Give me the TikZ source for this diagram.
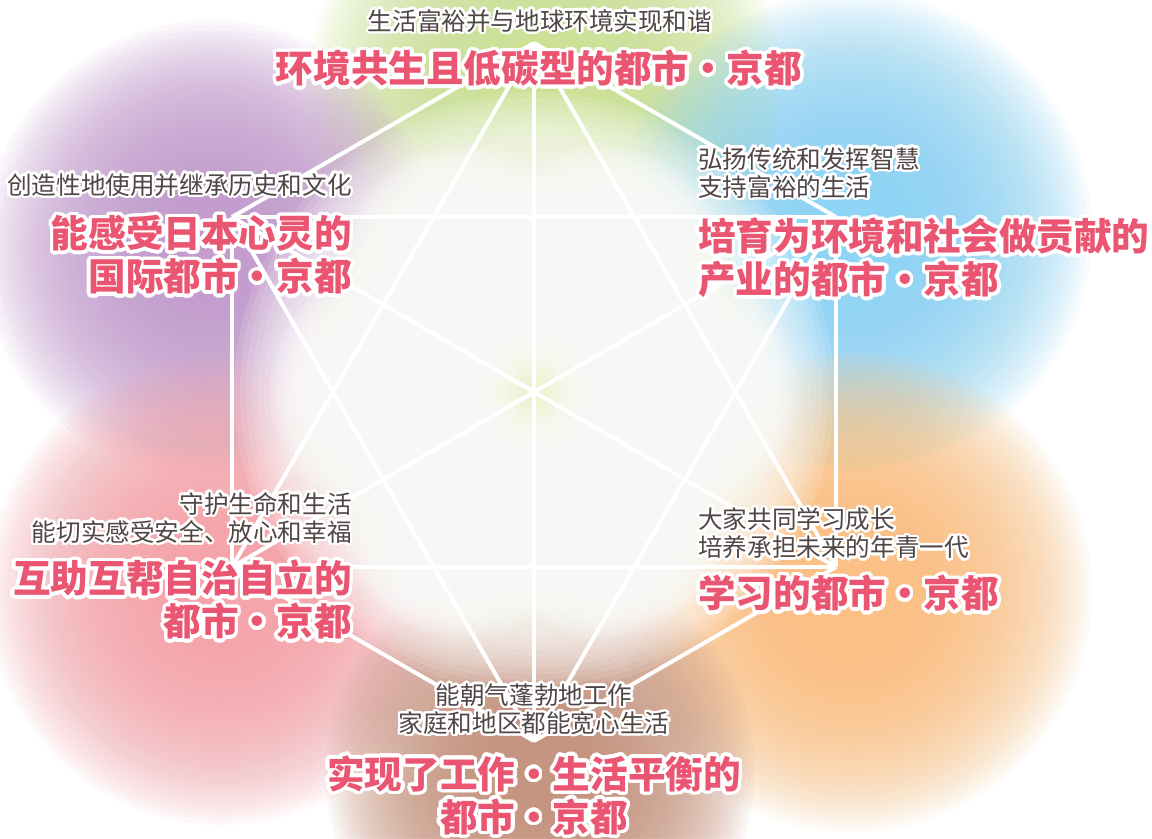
\documentclass[tikz,border=0pt]{standalone}
\usepackage{fontspec}
\usepackage[copies]{contour}
\usepackage{tikz}
\usetikzlibrary{calc}
\newfontfamily\cjk{Noto Sans CJK SC}

\definecolor{subgray}{RGB}{80,70,70}
\definecolor{mainpink}{RGB}{234,86,114}
\definecolor{blobgreen}{RGB}{204,225,148}
\definecolor{blobblue}{RGB}{140,212,244}
\definecolor{blobpurple}{RGB}{196,156,206}
\definecolor{bloborange}{RGB}{250,192,128}
\definecolor{blobpink}{RGB}{244,164,170}
\definecolor{blobbrown}{RGB}{198,146,124}
\definecolor{glowcream}{RGB}{240,242,190}

\newcommand\halo[1]{\contour{white}{#1}}
\contournumber{24}

\begin{document}
\begin{tikzpicture}[x=0.02cm, y=-0.02cm,
  ring/.style={fill=#1, opacity=0.065},
  starline/.style={draw=white, line width=0.08cm},
  subtxt/.style={text=subgray, inner sep=0pt, font={\cjk\fontsize{14}{16}\selectfont\contourlength{1.4pt}}},
  maintxt/.style={text=mainpink, inner sep=0pt, font={\cjk\bfseries\fontsize{21.4}{24.5}\selectfont\contourlength{2pt}}}]

\useasboundingbox (0,0) rectangle (1152,838);
\fill[white] (0,0) rectangle (1152,838);

% coloured patches, built up from faint rings
\foreach \c/\x/\y/\r in {blobgreen/545/95/240, blobpurple/212/250/230,
    blobblue/852/232/240, blobpink/222/590/235, bloborange/852/592/240,
    blobbrown/540/770/215}
  \foreach \k in {0,...,35}
    \fill[ring=\c] (\x,\y) circle ({\r*(1-0.75*\k/35)});

% white middle with a faint cream tint
\foreach \k in {0,...,35}
  \fill[ring=white, opacity=0.12] (534,392) circle ({300*(1-0.7*\k/35)});
\foreach \k in {0,...,29}
  \fill[ring=glowcream, opacity=0.025] (534,392) circle ({250*(1-0.6*\k/29)});

% white glow between the star tips
\foreach \a in {0,60,...,300}
  \foreach \k in {0,...,25}
    \fill[ring=white, opacity=0.12] ($(534,392)+(\a:140)$) circle ({125*(1-0.8*\k/25)});

% star corners
\coordinate (t) at (534,43);
\coordinate (ur) at (836,217);
\coordinate (lr) at (836,567);
\coordinate (b) at (534,741);
\coordinate (ll) at (232,567);
\coordinate (ul) at (232,217);

\foreach \p/\q in {t/ur, t/lr, t/b, t/ll, t/ul, ur/lr, ur/b, ur/ll, ur/ul,
                   lr/b, lr/ll, lr/ul, b/ll, b/ul, ll/ul}
  \draw[starline] (\p) -- (\q);

% labels
\node[subtxt] (tsub) at (540,22) {\halo{生活富裕并与地球环境实现和谐}};
\node[maintxt] (tmain) at (539,70) {\halo{环境共生且低碳型的都市・京都}};

\node[subtxt, anchor=east] (ulsub) at (352,186) {\halo{创造性地使用并继承历史和文化}};
\node[maintxt, anchor=east, align=right] (ulmain) at (352,256.5)
  {\halo{能感受日本心灵的}\\\halo{国际都市・京都}};

\node[subtxt, anchor=west, align=left] (ursub) at (698,174)
  {\halo{弘扬传统和发挥智慧}\\\halo{支持富裕的生活}};
\node[maintxt, anchor=west, align=left] (urmain) at (698,259.5)
  {\halo{培育为环境和社会做贡献的}\\\halo{产业的都市・京都}};

\node[subtxt, anchor=west, align=left] (lrsub) at (698,534.5)
  {\halo{大家共同学习成长}\\\halo{培养承担未来的年青一代}};
\node[maintxt, anchor=west] (lrmain) at (698,595) {\halo{学习的都市・京都}};

\node[subtxt, anchor=east, align=right] (llsub) at (352,519)
  {\halo{守护生命和生活}\\\halo{能切实感受安全、放心和幸福}};
\node[maintxt, anchor=east, align=right] (llmain) at (352,601.5)
  {\halo{互助互帮自治自立的}\\\halo{都市・京都}};

\node[subtxt, align=center] (bsub) at (534,710.5)
  {\halo{能朝气蓬勃地工作}\\\halo{家庭和地区都能宽心生活}};
\node[maintxt, align=center] (bmain) at (534,797)
  {\halo{实现了工作・生活平衡的}\\\halo{都市・京都}};
\end{tikzpicture}
\end{document}
